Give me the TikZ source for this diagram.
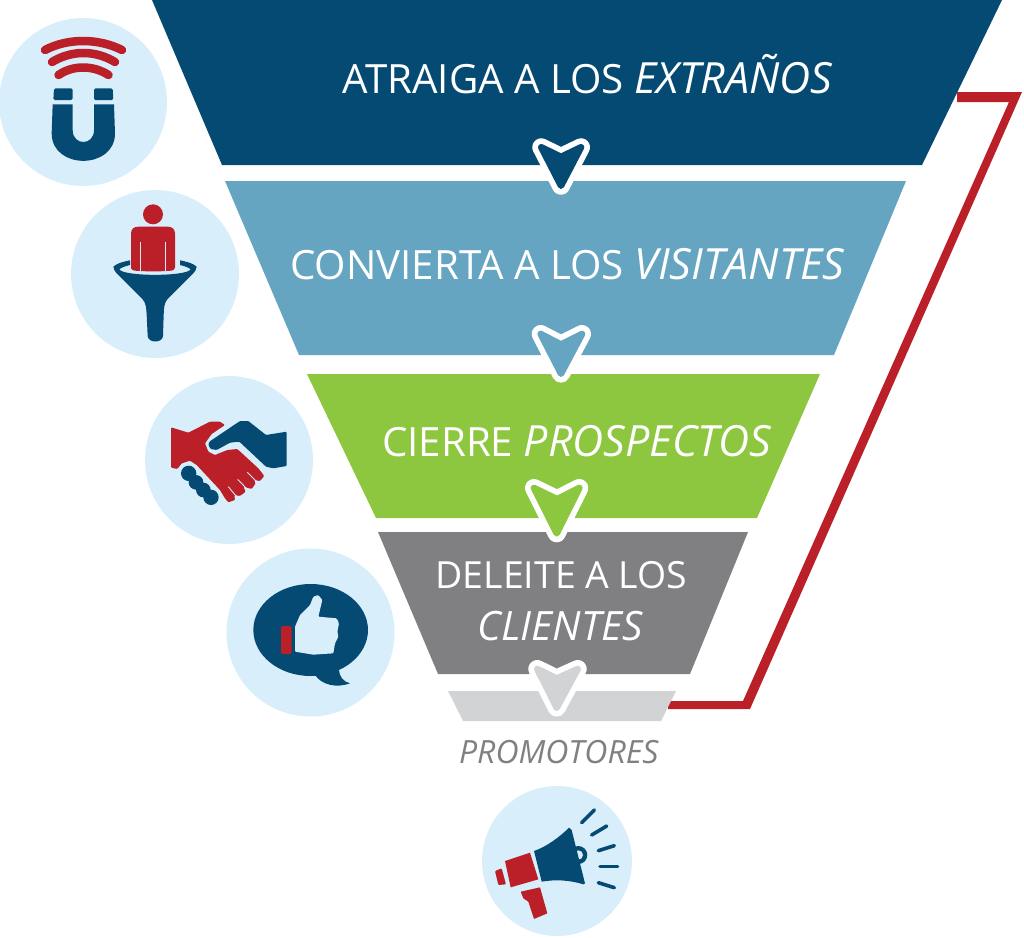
\documentclass[tikz,border=0pt]{standalone}
\usepackage{fontspec}
\setmainfont{Open Sans}
\definecolor{navy}{HTML}{054A73}
\definecolor{tblue}{HTML}{66A5C2}
\definecolor{tgreen}{HTML}{8DC63F}
\definecolor{tgray}{HTML}{808083}
\definecolor{lgray}{HTML}{D1D3D4}
\definecolor{ired}{HTML}{BB1F27}
\definecolor{lblue}{HTML}{D8EEFB}
\newcommand{\itl}[1]{{\fontsize{43}{43}\selectfont\textit{#1}}}
\tikzset{
  disc/.style={fill=lblue,draw=none},
  chevout/.style={draw=white,fill=white,line width=18pt,line join=round},
  chevin/.style={line width=6.6pt,line join=round},
  ftext/.style={text=white,anchor=base,inner sep=0pt,font=\fontsize{40.3}{40.3}\selectfont},
  rarc/.style={draw=ired,line width=8.5pt,line cap=round},
  ray/.style={draw=navy,line width=3.6pt,line cap=round},
  zoomA/.style={shift={(0,0)},scale=1/3},
  zoomB/.style={shift={(140,370)},scale=1/3},
  zoomC/.style={shift={(470,780)},scale=1/3},
}
\begin{document}
\begin{tikzpicture}[x=1pt,y=-1pt]
\useasboundingbox (0,0) rectangle (1024,937);
% red return line
\fill[ired] (668,701) -- (743,701) -- (1009,102) -- (957,102) -- (957,92) -- (1022,92) -- (750,709) -- (668,709) -- cycle;
% funnel
\fill[navy] (152,0) -- (1002,0) -- (922,165) -- (222,165) -- cycle;
\fill[tblue] (225,181) -- (906,181) -- (834,355) -- (299,355) -- cycle;
\fill[tgreen] (307,374) -- (820,374) -- (757,518) -- (376,518) -- cycle;
\fill[tgray] (378,532) -- (748,532) -- (690,674) -- (438,674) -- cycle;
\fill[lgray] (448,691) -- (676,691) -- (661,721) -- (463,721) -- cycle;
% chevrons
\draw[chevout] (541.3,147.3) -- (561,156.9) -- (581,147.3) -- (561,185.7) -- cycle;
\filldraw[chevin,navy] (541.3,147.3) -- (561,156.9) -- (581,147.3) -- (561,185.7) -- cycle;
\draw[chevout] (540.7,334) -- (561,344.5) -- (582,334) -- (561,373.7) -- cycle;
\filldraw[chevin,tblue] (540.7,334) -- (561,344.5) -- (582,334) -- (561,373.7) -- cycle;
\draw[chevout] (534,488) -- (557,499.2) -- (579.3,488) -- (556.7,533.3) -- cycle;
\filldraw[chevin,tgreen] (534,488) -- (557,499.2) -- (579.3,488) -- (556.7,533.3) -- cycle;
\draw[chevout] (537.3,669) -- (556.7,678.5) -- (577.7,669) -- (556.7,707.7) -- cycle;
\filldraw[chevin,lgray] (537.3,669) -- (556.7,678.5) -- (577.7,669) -- (556.7,707.7) -- cycle;
% texts
\node[ftext] (t1) at (587.5,93) {ATRAIGA A LOS \itl{EXTRAÑOS}};
\node[ftext] (t2) at (567.5,279) {CONVIERTA A LOS \itl{VISITANTES}};
\node[ftext] (t3) at (577,456) {CIERRE \itl{PROSPECTOS}};
\node[ftext,font=\fontsize{37.4}{37.4}\selectfont] (t4) at (561.5,588) {DELEITE A LOS};
\node[ftext,font=\fontsize{40.4}{40.4}\selectfont] (t5) at (560.5,640) {\textit{CLIENTES}};
\node[anchor=base,inner sep=0pt,text=tgray,font=\fontsize{32}{32}\selectfont] (t6) at (559,763) {\textit{PROMOTORES}};
% discs
\fill[disc] (83,102) circle (84);
\fill[disc] (155,274) circle (84);
\fill[disc] (229,460) circle (84);
\fill[disc] (310.5,632.5) circle (84);
\fill[disc] (557,861) circle (75);
% magnet icon
\draw[rarc] (45,50) .. controls (68,38) and (98,38) .. (122,50);
\draw[rarc] (52,62) .. controls (72,50) and (95,50) .. (115,62);
\draw[rarc] (58.5,75) .. controls (73,65) and (93,65) .. (108.5,75);
\begin{scope}[zoomA]
\fill[navy,rounded corners=1.5pt] (160,300) -- (162,265) -- (218,265) -- (218,300) -- cycle;
\fill[navy,rounded corners=1.5pt] (282,300) -- (282,265) -- (338,265) -- (340,300) -- cycle;
\fill[navy] (158,313) -- (218,313) -- (218,390) .. controls (218,438) and (282,438) .. (282,390) -- (282,313) -- (342,313) -- (345,400) .. controls (345,510) and (155,510) .. (155,400) -- cycle;
% funnel icon
\fill[navy] (340,800) .. controls (350,790) and (370,785) .. (390,781) -- (390,795) .. controls (370,800) and (360,805) .. (358,808) .. controls (370,830) and (560,830) .. (572,808) .. controls (570,805) and (560,800) .. (540,795) -- (540,781) .. controls (560,785) and (580,790) .. (590,800) .. controls (590,808) and (585,815) .. (575,825) -- (503,897) .. controls (492,908) and (492,925) .. (491,945) -- (489,1008) .. controls (488,1030) and (444,1030) .. (443,1008) -- (440,945) .. controls (439,925) and (438,908) .. (427,897) -- (355,825) .. controls (345,815) and (340,808) .. (340,800) -- cycle;
\fill[ired] (459,643) circle (30);
\fill[ired,rounded corners=3pt] (393,811) -- (393,690) -- (405,680) -- (513,680) -- (525,690) -- (525,811) .. controls (480,815) and (440,815) .. (393,811) -- cycle;
\draw[lblue,line width=.8pt] (421,725) -- (421,812) (497,725) -- (497,812);
\end{scope}
% handshake icon
\begin{scope}[zoomB]
\fill[navy,rounded corners=1pt] (208,215) -- (300,153) -- (325,153) -- (378,195) -- (440,185) -- (440,288) -- (400,295) -- (378,290) -- (298,215) -- (270,218) -- (230,240) -- (212,237) -- (205,225) -- cycle;
\fill[ired,rounded corners=1pt] (93,172) -- (93,293) -- (112,297) -- (125,280) -- (150,272) -- (170,285) -- (240,360) -- (255,385) -- (265,397) -- (285,390) -- (283,375) -- (300,378) -- (317,365) -- (310,350) -- (335,357) -- (347,340) -- (342,330) -- (360,333) -- (373,318) -- (355,295) -- (292,237) -- (262,240) -- (225,255) -- (205,245) -- (195,220) -- (215,192) -- (255,165) -- (240,155) -- (210,155) -- (145,188) -- cycle;
\draw[lblue,line width=.9pt] (265,350) -- (288,378) (293,328) -- (322,358) (322,307) -- (350,335);
\fill[navy] (146,310) circle (23) (168,337) circle (22) (190,360) circle (22) (213,382) circle (23);
% thumbs-up icon
\fill[navy] (512,780) ellipse [x radius=172,y radius=138];
\fill[navy] (525,915) .. controls (545,945) and (590,955) .. (630,940) .. controls (610,935) and (598,920) .. (597,900) -- cycle;
\fill[lblue,rounded corners=1pt] (465,770) -- (480,735) -- (510,705) -- (520,680) -- (535,675) -- (547,690) -- (535,740) -- (590,745) -- (597,760) -- (592,785) -- (595,800) -- (585,820) -- (580,850) -- (520,854) -- (465,845) -- cycle;
\fill[ired,rounded corners=1.5pt] (423,768) rectangle (455,852);
\end{scope}
% megaphone icon
\begin{scope}[zoomC]
\fill[navy] (325,225) circle (27);
\fill[lblue] (325,225) circle (14);
\fill[navy] (192,213) .. controls (230,200) and (270,170) .. (297,143) -- (305,150) -- (345,310) -- (340,313) .. controls (300,300) and (255,298) .. (215,305) -- cycle;
\fill[ired] (105,243) -- (180,218) -- (205,298) -- (122,322) -- cycle;
\fill[ired,rounded corners=1pt] (75,273) -- (95,265) -- (108,313) -- (85,315) -- cycle;
\fill[ired,rounded corners=.5pt] (152,335) -- (210,322) -- (232,400) -- (192,417) -- (175,365) -- (160,355) -- cycle;
\draw[ray] (335,128) -- (373,90);
\draw[ray] (365,165) -- (410,138);
\draw[ray] (385,212) -- (433,197);
\draw[ray] (390,260) -- (443,260);
\draw[ray] (385,308) -- (433,323);
\end{scope}
\end{tikzpicture}
\end{document}
